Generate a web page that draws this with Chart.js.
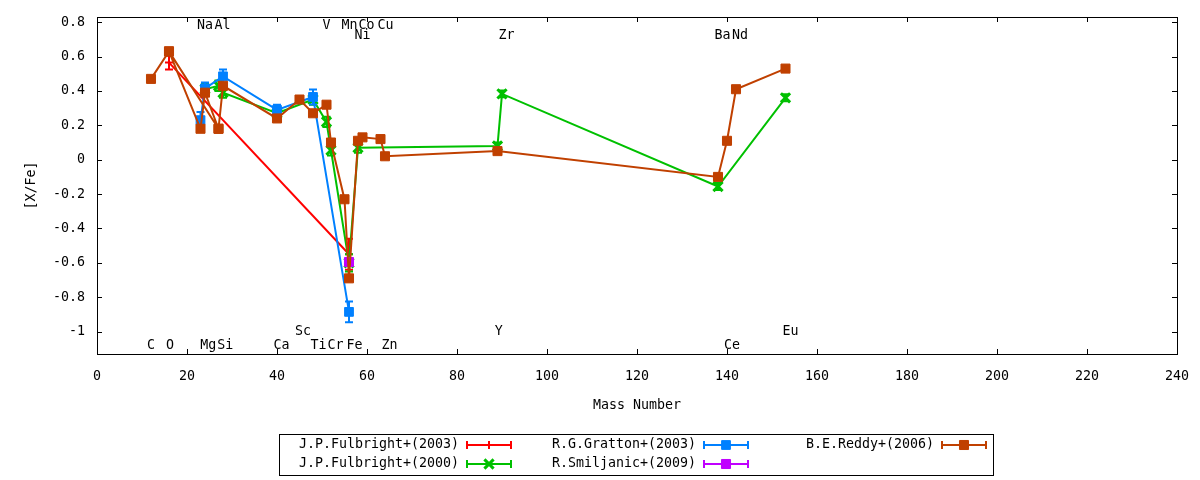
<!DOCTYPE html>
<html>
<head>
<meta charset="utf-8">
<script src="https://cdn.jsdelivr.net/npm/chart.js@4.4.0/dist/chart.umd.min.js"></script>
<style>
  html, body { margin: 0; padding: 0; background: #fff; }
  #wrap { width: 1200px; height: 480px; }
</style>
</head>
<body>
<div id="wrap"><canvas id="chart" width="1200" height="480"></canvas></div>
<script>
// [X/Fe] against mass number, one set of arrays per study
const fulb03Mass = [16, 56];
const fulb03Val  = [0.565, -0.55];
const fulb03Err  = [0.04, 0.09];

const fulb00Mass = [24, 27, 28, 40, 48, 51, 52, 56, 58, 89, 90, 138, 153];
const fulb00Val  = [0.41, 0.43, 0.39, 0.27, 0.35, 0.22, 0.055, -0.60, 0.07, 0.08, 0.383, -0.156, 0.36];
const fulb00Err  = [0.03, 0.03, 0.03, 0.02, 0.03, 0.03, 0.03, 0.05, 0.03, 0.02, 0.02, 0.02, 0.02];

const grattonMass = [23, 24, 28, 40, 48, 56];
const grattonVal  = [0.23, 0.415, 0.485, 0.29, 0.365, -0.885];
const grattonErr  = [0.048, 0.034, 0.04, 0.03, 0.044, 0.06];

const smilMass = [56];
const smilVal  = [-0.595];
const smilErr  = [0.02];

// null splits the line: the last pair is a second O-Al stroke seen in the plot
const reddyMass = [12, 16, 23, 24, 27, 28, 40, 45, 48, 51, 52, 55, 56, 58, 59, 63, 64, 89, 138, 140, 142, 153, null, 16, 27];
const reddyVal  = [0.47, 0.63, 0.18, 0.39, 0.18, 0.43, 0.24, 0.35, 0.27, 0.32, 0.10, -0.23, -0.69, 0.11, 0.13, 0.12, 0.02, 0.05, -0.10, 0.11, 0.41, 0.53, null, 0.63, 0.18];

const xTicks = [0, 20, 40, 60, 80, 100, 120, 140, 160, 180, 200, 220, 240];
const yTicks = [-1, -0.8, -0.6, -0.4, -0.2, 0, 0.2, 0.4, 0.6, 0.8];

// element names written on the plot (data coords)
const elemNames = ['Na', 'Al', 'V', 'Mn', 'Co', 'Cu', 'Ni', 'Zr', 'Ba', 'Nd', 'Sc', 'Y', 'Eu',
                   'C', 'O', 'Mg', 'Si', 'Ca', 'Ti', 'Cr', 'Fe', 'Zn', 'Ce'];
const elemX = [24.0, 27.9, 51.0, 56.1, 59.9, 64.1, 59.0, 91.0, 139.0, 142.9, 45.8, 89.3, 154.1,
               12.0, 16.2, 24.7, 28.5, 41.0, 49.2, 53.0, 57.2, 65.0, 141.1];
const elemY = [0.78, 0.78, 0.78, 0.78, 0.78, 0.78, 0.72, 0.72, 0.72, 0.72, -1.0, -1.0, -1.0,
               -1.08, -1.08, -1.08, -1.08, -1.08, -1.08, -1.08, -1.08, -1.08, -1.08];

const FONT = 'DejaVu Sans Mono';
const FSIZE = 13.3;

function pts(xs, ys) {
  return xs.map((x, i) => ({ x: x, y: ys[i] }));
}

const errors = [fulb03Err, fulb00Err, grattonErr, smilErr, null];

const datasets = [
  { label: 'J.P.Fulbright+(2003)', data: pts(fulb03Mass, fulb03Val), color: '#ff0000',
    pointStyle: 'cross', pointRadius: 4, pointBorderWidth: 2, order: 4 },
  { label: 'J.P.Fulbright+(2000)', data: pts(fulb00Mass, fulb00Val), color: '#00c000',
    pointStyle: 'crossRot', pointRadius: 6.5, pointBorderWidth: 3, order: 3 },
  { label: 'R.G.Gratton+(2003)', data: pts(grattonMass, grattonVal), color: '#0080ff',
    pointStyle: 'rect', pointRadius: 6.2, pointBorderWidth: 1, order: 2 },
  { label: 'R.Smiljanic+(2009)', data: pts(smilMass, smilVal), color: '#c000ff',
    pointStyle: 'rect', pointRadius: 6.4, pointBorderWidth: 1, order: 1 },
  { label: 'B.E.Reddy+(2006)', data: pts(reddyMass, reddyVal), color: '#c04000',
    pointStyle: 'rect', pointRadius: 6.4, pointBorderWidth: 1, order: 0 }
].map(d => Object.assign(d, {
  borderColor: d.color, backgroundColor: d.color,
  pointBackgroundColor: d.color, pointBorderColor: d.color,
  borderWidth: 2, showLine: true, tension: 0, fill: false, spanGaps: false
}));

const errorBars = {
  id: 'errorBars',
  beforeDatasetDraw(chart, args) {
    const err = errors[args.index];
    if (!err) return;
    const ds = chart.data.datasets[args.index];
    const ctx = chart.ctx;
    const xs = chart.scales.x, ys = chart.scales.y;
    ctx.save();
    ctx.strokeStyle = ds.color;
    ctx.lineWidth = 2;
    ds.data.forEach((p, i) => {
      if (p.y == null || !err[i]) return;
      const px = xs.getPixelForValue(p.x);
      const y1 = ys.getPixelForValue(p.y - err[i]);
      const y2 = ys.getPixelForValue(p.y + err[i]);
      ctx.beginPath();
      ctx.moveTo(px, y1); ctx.lineTo(px, y2);
      ctx.moveTo(px - 4, y1); ctx.lineTo(px + 4, y1);
      ctx.moveTo(px - 4, y2); ctx.lineTo(px + 4, y2);
      ctx.stroke();
    });
    ctx.restore();
  }
};

const frameTicks = {
  id: 'frameTicks',
  afterDraw(chart) {
    const { ctx, chartArea: a } = chart;
    const xs = chart.scales.x, ys = chart.scales.y;
    ctx.save();
    ctx.strokeStyle = '#000';
    ctx.lineWidth = 1;
    ctx.strokeRect(a.left + 0.5, a.top + 0.5, a.right - a.left, a.bottom - a.top);
    ctx.beginPath();
    xTicks.forEach(v => {
      const px = Math.round(xs.getPixelForValue(v)) + 0.5;
      ctx.moveTo(px, a.bottom); ctx.lineTo(px, a.bottom - 5);
      ctx.moveTo(px, a.top); ctx.lineTo(px, a.top + 5);
    });
    yTicks.forEach(v => {
      const py = Math.round(ys.getPixelForValue(v)) + 0.5;
      ctx.moveTo(a.left, py); ctx.lineTo(a.left + 5, py);
      ctx.moveTo(a.right, py); ctx.lineTo(a.right - 5, py);
    });
    ctx.stroke();

    // element labels
    ctx.fillStyle = '#000';
    ctx.font = FSIZE + 'px "' + FONT + '"';
    ctx.textAlign = 'center';
    ctx.textBaseline = 'middle';
    elemNames.forEach((n, i) => {
      ctx.fillText(n, xs.getPixelForValue(elemX[i]), ys.getPixelForValue(elemY[i]));
    });
    ctx.restore();
  }
};

function marker(ctx, ds, x, y) {
  const r = ds.pointRadius;
  ctx.beginPath();
  if (ds.pointStyle === 'rect') {
    const s = r * Math.SQRT1_2;
    ctx.rect(x - s, y - s, 2 * s, 2 * s);
    ctx.fill();
  } else if (ds.pointStyle === 'cross') {
    ctx.moveTo(x, y - r); ctx.lineTo(x, y + r);
    ctx.moveTo(x - r, y); ctx.lineTo(x + r, y);
  } else {
    const s = r * Math.SQRT1_2;
    ctx.moveTo(x - s, y - s); ctx.lineTo(x + s, y + s);
    ctx.moveTo(x - s, y + s); ctx.lineTo(x + s, y - s);
  }
  ctx.lineWidth = ds.pointBorderWidth;
  ctx.stroke();
}

// gnuplot style key: boxed, three columns filled top to bottom
const keyBox = {
  id: 'keyBox',
  afterDraw(chart) {
    const ctx = chart.ctx;
    const textRight = [459, 696, 934];
    const rowY = [445, 464];
    ctx.save();
    ctx.strokeStyle = '#000';
    ctx.lineWidth = 1;
    ctx.strokeRect(279.5, 434.5, 714, 41);
    ctx.font = FSIZE + 'px "' + FONT + '"';
    ctx.textAlign = 'right';
    ctx.textBaseline = 'middle';
    chart.data.datasets.forEach((ds, i) => {
      const col = Math.floor(i / 2), row = i % 2;
      const tx = textRight[col], ty = rowY[row];
      ctx.fillStyle = '#000';
      ctx.fillText(ds.label, tx, ty);
      const sx = tx + 8, ex = sx + 44, mx = (sx + ex) / 2;
      ctx.strokeStyle = ds.color;
      ctx.fillStyle = ds.color;
      ctx.lineWidth = 2;
      ctx.beginPath();
      ctx.moveTo(sx, ty); ctx.lineTo(ex, ty);
      ctx.moveTo(sx, ty - 4); ctx.lineTo(sx, ty + 4);
      ctx.moveTo(ex, ty - 4); ctx.lineTo(ex, ty + 4);
      ctx.stroke();
      marker(ctx, ds, mx, ty);
    });
    ctx.restore();
  }
};

Chart.defaults.font.family = FONT;
Chart.defaults.font.size = FSIZE;
Chart.defaults.color = '#000';

new Chart(document.getElementById('chart'), {
  type: 'scatter',
  data: { datasets: datasets },
  options: {
    responsive: false,
    animation: false,
    events: [],
    layout: { padding: { left: 0, right: 23, top: 17, bottom: 66 } },
    plugins: { legend: { display: false }, tooltip: { enabled: false } },
    scales: {
      x: {
        type: 'linear', min: 0, max: 240,
        afterBuildTicks: s => { s.ticks = xTicks.map(v => ({ value: v })); },
        afterFit: s => { s.height = 60; s.paddingLeft = 0; s.paddingRight = 0; },
        ticks: { padding: 15, color: '#000', callback: v => String(v) },
        grid: { display: false, drawTicks: false },
        border: { display: false },
        title: { display: true, text: 'Mass Number', color: '#000', padding: { top: 0, bottom: 0 } }
      },
      y: {
        type: 'linear', min: -1.13, max: 0.83,
        afterBuildTicks: s => { s.ticks = yTicks.map(v => ({ value: v })); },
        afterFit: s => { s.width = 97; s.paddingTop = 0; s.paddingBottom = 0; },
        ticks: { padding: 12, color: '#000', callback: v => String(+v.toFixed(1)) },
        grid: { display: false, drawTicks: false },
        border: { display: false },
        title: { display: true, text: '[X/Fe]', color: '#000', padding: { top: 24, bottom: 0 } }
      }
    }
  },
  plugins: [errorBars, frameTicks, keyBox]
});
</script>
</body>
</html>
